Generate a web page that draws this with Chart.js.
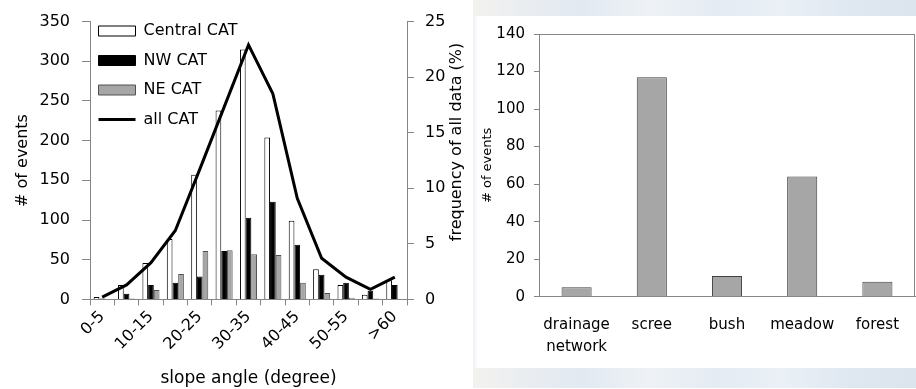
<!DOCTYPE html>
<html><head><meta charset="utf-8">
<script src="https://cdn.jsdelivr.net/npm/chart.js@4.4.1/dist/chart.umd.min.js"></script>
<style>
html,body{margin:0;padding:0;background:#fff;}
#wrap{position:relative;width:916px;height:389px;overflow:hidden;background:#fff;}
.band{position:absolute;}
#c1{position:absolute;left:0;top:0;}
#c2{position:absolute;left:460px;top:0;}
</style></head><body>
<div id="wrap">
<div class="band" style="left:473px;top:0;width:443px;height:16px;background:linear-gradient(90deg,#f4f2ee 0%,#e9edf1 12%,#e2e9f1 25%,#eef2f6 40%,#e4ebf2 55%,#eaf0f6 70%,#dfe7f0 85%,#dce5ee 100%);"></div>
<div class="band" style="left:473px;top:368px;width:443px;height:20px;background:linear-gradient(90deg,#f4f2ee 0%,#e9edf1 12%,#e2e9f1 25%,#eef2f6 40%,#e4ebf2 55%,#eaf0f6 70%,#dfe7f0 85%,#dce5ee 100%);"></div>
<div class="band" style="left:473px;top:16px;width:5px;height:352px;background:linear-gradient(90deg,#eaf0f6,#ffffff);"></div>
<canvas id="c1" width="470" height="389"></canvas>
<canvas id="c2" width="456" height="389"></canvas>
</div>
<script>
// ---- data: left chart ----
const slopeCategories = ['0-5','5-10','10-15','15-20','20-25','25-30','30-35','35-40','40-45','45-50','50-55','55-60','>60'];
const centralCAT = [3, 18, 46, 76, 157, 238, 315, 204, 99, 38, 18, 6, 24];
const nwCAT = [1, 7, 18, 21, 29, 61, 103, 123, 69, 31, 21, 11, 18];
const neCAT = [0, 1, 12, 32, 61, 62, 57, 56, 21, 8, 2, 1, 0];
const allCAT = [0.2, 1.3, 3.3, 6.2, 11.7, 17.3, 22.9, 18.5, 9.1, 3.7, 2.0, 0.9, 2.0];
const leftTicks = [0, 50, 100, 150, 200, 250, 300, 350];
const rightTicks = [0, 5, 10, 15, 20, 25];
// ---- data: right chart ----
const landCategories = [['drainage','network'], 'scree', 'bush', 'meadow', 'forest'];
const landEvents = [5, 117, 11, 64, 8];
const landTicks = [0, 20, 40, 60, 80, 100, 120, 140];

Chart.defaults.font.family = '"DejaVu Sans", sans-serif';
Chart.defaults.color = '#000';
const AX = '#868686';

const rightTitlePlugin = {
  id: 'rightTitle',
  afterDraw(chart) {
    const ctx = chart.ctx;
    ctx.save();
    ctx.translate(457, 142);
    ctx.rotate(-Math.PI / 2);
    ctx.font = '16px "DejaVu Sans", sans-serif';
    ctx.fillStyle = '#000';
    ctx.textAlign = 'center';
    ctx.textBaseline = 'middle';
    ctx.fillText('frequency of all data (%)', 0, 0);
    ctx.restore();
  }
};
const legendShift = {
  id: 'legendShift',
  afterLayout(chart) {
    const l = chart.legend;
    if (l) { l.top += 9.5; l.bottom += 9.5; l.left -= 5; l.right -= 5; }
  }
};

new Chart(document.getElementById('c1'), {
  type: 'bar',
  data: {
    labels: slopeCategories,
    datasets: [
      { label: 'Central CAT', data: centralCAT, backgroundColor: '#ffffff', borderColor: '#000000', borderWidth: 1, order: 1, yAxisID: 'y' },
      { label: 'NW CAT', data: nwCAT, backgroundColor: '#000000', borderColor: '#000000', borderWidth: 1, order: 1, yAxisID: 'y' },
      { label: 'NE CAT', data: neCAT, backgroundColor: '#a6a6a6', borderColor: '#505050', borderWidth: 1, order: 1, yAxisID: 'y' },
      { type: 'line', label: 'all CAT', data: allCAT, borderColor: '#000000', backgroundColor: '#000000', borderWidth: 3, pointRadius: 0, tension: 0, order: 0, yAxisID: 'y1' }
    ]
  },
  options: {
    responsive: false,
    animation: false,
    layout: { padding: { top: 17, left: 0, right: 0, bottom: 0 } },
    datasets: { bar: { barPercentage: 1.0, categoryPercentage: 0.7 } },
    plugins: {
      tooltip: { enabled: false },
      legend: {
        position: 'chartArea',
        align: 'start',
        labels: {
          font: { size: 16 },
          color: '#000',
          usePointStyle: true,
          pointStyleWidth: 37,
          boxWidth: 37,
          boxHeight: 10,
          padding: 13.5,
          sort: (a, b) => a.datasetIndex - b.datasetIndex,
          generateLabels(chart) {
            const items = Chart.defaults.plugins.legend.labels.generateLabels(chart);
            items.forEach(it => {
              const ds = chart.data.datasets[it.datasetIndex];
              if (ds.type === 'line') {
                it.pointStyle = 'line'; it.lineWidth = 3; it.strokeStyle = '#000';
              } else {
                it.pointStyle = 'rect'; it.lineWidth = 1;
                it.fillStyle = ds.backgroundColor; it.strokeStyle = ds.borderColor;
              }
            });
            return items;
          }
        }
      }
    },
    scales: {
      x: {
        grid: { drawOnChartArea: false, drawTicks: true, tickLength: 6, color: AX, offset: true },
        border: { color: AX },
        ticks: {
          autoSkip: false, maxRotation: 45, minRotation: 45, padding: 2,
          font: { size: 16 },
          callback: (v, i) => (i % 2 === 0 ? slopeCategories[i] : '')
        },
        title: { display: true, text: 'slope angle (degree)', font: { size: 17 }, padding: { top: 0, bottom: 0 } },
        afterFit: s => { s.height = 89.6; }
      },
      y: {
        position: 'left', min: 0, max: 350,
        afterBuildTicks: s => { s.ticks = leftTicks.map(v => ({ value: v })); },
        grid: { drawOnChartArea: false, drawTicks: true, tickLength: 8, color: AX },
        border: { color: AX },
        ticks: { font: { size: 16 }, padding: 12 },
        title: { display: true, text: '# of events', font: { size: 16 }, padding: { top: 13, bottom: 0 } },
        afterFit: s => { s.width = 90; }
      },
      y1: {
        position: 'right', min: 0, max: 25,
        afterBuildTicks: s => { s.ticks = rightTicks.map(v => ({ value: v })); },
        grid: { drawOnChartArea: false, drawTicks: true, tickLength: 7, color: AX },
        border: { color: AX },
        ticks: { font: { size: 16 }, padding: 11 },
        afterFit: s => { s.width = 63; }
      }
    }
  },
  plugins: [rightTitlePlugin, legendShift]
});

const boxPlugin = {
  id: 'plotBox',
  afterDraw(chart) {
    const a = chart.chartArea, ctx = chart.ctx;
    ctx.save();
    ctx.strokeStyle = AX; ctx.lineWidth = 1;
    ctx.beginPath();
    ctx.moveTo(a.left, Math.round(a.top) + 0.5);
    ctx.lineTo(a.right, Math.round(a.top) + 0.5);
    ctx.moveTo(Math.round(a.right) - 0.5, a.top);
    ctx.lineTo(Math.round(a.right) - 0.5, a.bottom);
    ctx.stroke();
    ctx.restore();
  }
};

new Chart(document.getElementById('c2'), {
  type: 'bar',
  data: {
    labels: landCategories,
    datasets: [
      { label: '# of events', data: landEvents, backgroundColor: '#a6a6a6', borderColor: '#404040', borderWidth: 1, barPercentage: 0.4, categoryPercentage: 1.0 }
    ]
  },
  options: {
    responsive: false,
    animation: false,
    layout: { padding: { top: 34, left: 0, right: 1, bottom: 0 } },
    plugins: { legend: { display: false }, tooltip: { enabled: false } },
    scales: {
      x: {
        grid: { display: false },
        border: { color: AX },
        ticks: { font: { size: 15, lineHeight: 1.45 }, padding: 10, maxRotation: 0, autoSkip: false },
        afterFit: s => { s.height = 92.3; }
      },
      y: {
        min: 0, max: 140,
        afterBuildTicks: s => { s.ticks = landTicks.map(v => ({ value: v })); },
        grid: { drawOnChartArea: false, drawTicks: true, tickLength: 5, color: AX },
        border: { color: AX },
        ticks: { font: { size: 15 }, padding: 9 },
        title: { display: true, text: '# of events', font: { size: 13 }, padding: { top: 20, bottom: 0 } },
        afterFit: s => { s.width = 79; }
      }
    }
  },
  plugins: [boxPlugin]
});
</script>
</body></html>
